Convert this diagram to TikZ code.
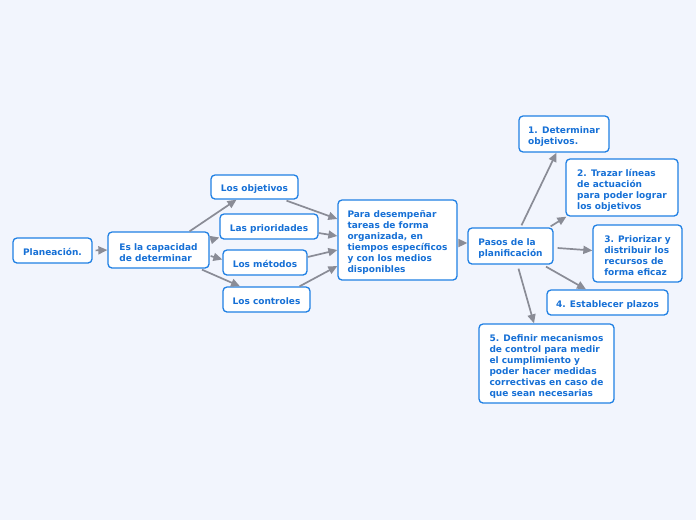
\documentclass[tikz,border=0pt]{standalone}
\usepackage{fontspec}
\setmainfont{DejaVu Sans}
\usetikzlibrary{arrows.meta,calc}
\definecolor{bgc}{RGB}{242,245,253}
\definecolor{nodeb}{RGB}{32,128,228}
\definecolor{nodet}{RGB}{22,112,214}
\definecolor{arrg}{RGB}{138,140,150}
\hyphenpenalty=10000
\exhyphenpenalty=10000
\newcommand{\tp}{\rule{0pt}{12pt}}
\begin{document}
\begin{tikzpicture}[x=1pt,y=-1pt,
  box/.style={draw=nodeb, line width=1.3pt, rounded corners=4pt, fill=white, text=nodet,
    font=\bfseries\fontsize{9}{11}\selectfont, inner ysep=2pt, inner xsep=2pt},
  sbox/.style 2 args={box, minimum width=#1, minimum height=#2, align=center,
    execute at begin node={\rule{0pt}{11pt}}},
  mbox/.style 2 args={box, minimum width=#1, minimum height=#2, align=left},
  conn/.style={draw=arrg, line width=1.7pt, -{Triangle[length=9pt,width=8pt]}}]
\fill[bgc] (0,0) rectangle (696,520);
\useasboundingbox (0,0) rectangle (696,520);

\node[sbox={79pt}{25pt}] (plan) at (52.5,250.5) {Planeación.};
\node[mbox={101pt}{36pt}] (es) at (158.5,250) {\tp Es la capacidad\\de determinar};
\node[sbox={87pt}{24pt}] (obj) at (254.5,187) {Los objetivos};
\node[sbox={98pt}{25pt}] (prio) at (269,226.5) {Las prioridades};
\node[sbox={84pt}{25pt}] (met) at (265,262.5) {Los métodos};
\node[sbox={87pt}{25pt}] (ctrl) at (266.5,299.5) {Los controles};
\node[mbox={119pt}{80pt}] (para) at (397.5,240) {\tp Para desempeñar\\tareas de forma\\organizada, en\\tiempos específicos\\y con los medios\\disponibles};
\node[mbox={85pt}{36pt}] (pasos) at (510.5,246) {\tp Pasos de la\\planificación};
\node[mbox={90pt}{36pt}] (d1) at (564,134) {\tp 1. Determinar\\objetivos.};
\node[mbox={112pt}{57pt}] (d2) at (622,187.5) {\tp 2. Trazar líneas\\de actuación\\para poder lograr\\los objetivos};
\node[mbox={89pt}{57pt}] (d3) at (637.5,253.5) {\tp 3. Priorizar y\\distribuir los\\recursos de\\forma eficaz};
\node[sbox={121pt}{25pt}] (d4) at (607.5,302.5) {4. Establecer plazos};
\node[mbox={135pt}{79pt}] (d5) at (546.5,363.5) {\tp 5. Definir mecanismos\\de control para medir\\el cumplimiento y\\poder hacer medidas\\correctivas en caso de\\que sean necesarias};

\draw[conn, shorten <=3pt] (plan.east) -- (es.west);
\draw[conn] ($(es.north)+(31,0)$) -- ($(obj.south)+(-18,0)$);
\draw[conn] ($(es.east)+(1,-10)$) -- ($(prio.west)+(0,11)$);
\draw[conn] ($(es.east)+(1,6)$) -- ($(met.west)+(0,-3)$);
\draw[conn] ($(es.south)+(43.5,1)$) -- ($(ctrl.north)+(-26.5,0)$);
\draw[conn] ($(obj.south)+(32,1)$) -- ($(para.west)+(0,-21)$);
\draw[conn] ($(prio.east)+(0,6.5)$) -- ($(para.west)+(0,-4)$);
\draw[conn] ($(met.east)+(0,-5.5)$) -- ($(para.west)+(0,10)$);
\draw[conn] ($(ctrl.north)+(33,0)$) -- ($(para.west)+(0,26)$);
\draw[conn, shorten <=1pt] ($(para.east)+(0,3)$) -- ($(pasos.west)+(0,-3)$);
\draw[conn] ($(pasos.north)+(11,-2)$) -- ($(d1.south)+(-7.5,0)$);
\draw[conn] ($(pasos.north east)+(-3,-1)$) -- ($(d2.south west)+(1,0)$);
\draw[conn] ($(pasos.east)+(4,2)$) -- ($(d3.west)+(0,-3)$);
\draw[conn] ($(pasos.south)+(35.5,2)$) -- ($(d4.north)+(-21.5,0)$);
\draw[conn] ($(pasos.south)+(8,4)$) -- ($(d5.north)+(-12.5,0)$);
\end{tikzpicture}
\end{document}
